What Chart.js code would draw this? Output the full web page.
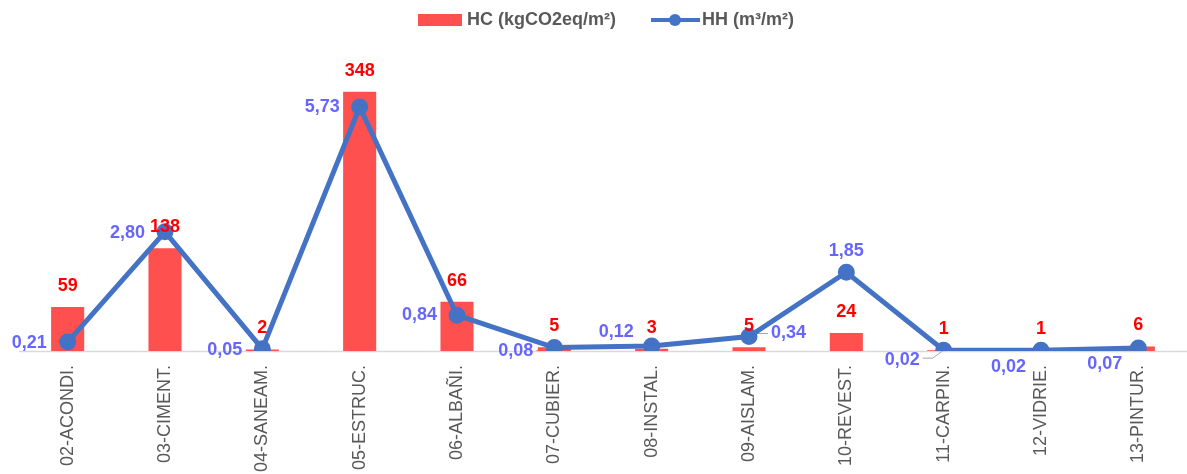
<!DOCTYPE html>
<html>
<head>
<meta charset="utf-8">
<script src="https://cdn.jsdelivr.net/npm/chart.js@4"></script>
<style>
  html, body { margin: 0; padding: 0; background: #fff; overflow: hidden; }
  canvas { display: block; }
</style>
</head>
<body>
<canvas id="grafico" width="1198" height="474"></canvas>
<script>
// partidas de obra
const partidas = ['02-ACONDI.', '03-CIMENT.', '04-SANEAM.', '05-ESTRUC.', '06-ALBAÑI.', '07-CUBIER.',
  '08-INSTAL.', '09-AISLAM.', '10-REVEST.', '11-CARPIN.', '12-VIDRIE.', '13-PINTUR.'];
// huella de carbono (kgCO2eq/m²)
const hc = [59, 138, 2, 348, 66, 5, 3, 5, 24, 1, 1, 6];
// huella hídrica (m³/m²)
const hh = [0.21, 2.80, 0.05, 5.73, 0.84, 0.08, 0.12, 0.34, 1.85, 0.02, 0.02, 0.07];

// desplazamiento de cada etiqueta de HH respecto a su punto [dx, dy, alineación]
const posEtiquetaHH = [
  [-21, 1, 'right'], [-20, 1, 'right'], [-20, 1, 'right'], [-20, 0, 'right'],
  [-20, 0, 'right'], [-21, 3, 'right'], [-18, -14, 'right'], [22, -3, 'left'],
  [0, -21, 'center'], [-24, 10, 'right'], [-15, 17, 'right'], [-16, 16, 'right']
];
// etiquetas de HH que llevan línea guía hasta su punto
const conGuia = [5, 7, 9];

const fuente = '"Liberation Sans", Arial, sans-serif';

// etiquetas de valor y línea base
const etiquetas = {
  id: 'etiquetas',
  beforeDatasetsDraw(chart) {
    const { ctx, chartArea } = chart;
    ctx.save();
    ctx.strokeStyle = '#d9d9d9';
    ctx.lineWidth = 1.5;
    ctx.beginPath();
    ctx.moveTo(chartArea.left, chartArea.bottom + 0.5);
    ctx.lineTo(chartArea.right, chartArea.bottom + 0.5);
    ctx.stroke();

    // líneas guía
    ctx.strokeStyle = '#a6a6a6';
    ctx.lineWidth = 1;
    chart.getDatasetMeta(1).data.forEach((punto, i) => {
      if (!conGuia.includes(i)) return;
      const p = posEtiquetaHH[i];
      const x0 = punto.x + p[0] + (p[2] === 'left' ? -3 : 3);
      const y0 = punto.y + p[1] + (p[1] > 5 ? -2 : 0);
      ctx.beginPath();
      ctx.moveTo(x0, y0);
      ctx.lineTo(x0 + (p[2] === 'left' ? -10 : 10), y0);
      ctx.lineTo(punto.x, punto.y);
      ctx.stroke();
    });
    ctx.restore();
  },
  afterDatasetsDraw(chart) {
    const ctx = chart.ctx;
    ctx.save();
    ctx.font = 'bold 18px ' + fuente;
    ctx.textBaseline = 'middle';

    chart.getDatasetMeta(0).data.forEach((barra, i) => {
      ctx.fillStyle = '#ff0000';
      ctx.textAlign = 'center';
      ctx.fillText(String(hc[i]), barra.x, barra.y - 21);
    });

    chart.getDatasetMeta(1).data.forEach((punto, i) => {
      const p = posEtiquetaHH[i];
      ctx.fillStyle = '#6666ff';
      ctx.textAlign = p[2];
      ctx.fillText(hh[i].toFixed(2).replace('.', ','), punto.x + p[0], punto.y + p[1]);
    });
    ctx.restore();
  }
};

// leyenda superior
const leyenda = {
  id: 'leyenda',
  afterDraw(chart) {
    const ctx = chart.ctx;
    ctx.save();
    ctx.font = 'bold 18px ' + fuente;
    ctx.textBaseline = 'middle';
    const y = 20;
    ctx.fillStyle = '#ff5050';
    ctx.fillRect(418, y - 6, 44, 12);
    ctx.fillStyle = '#595959';
    ctx.fillText('HC (kgCO2eq/m²)', 467, y);
    ctx.strokeStyle = '#4472c4';
    ctx.lineWidth = 4;
    ctx.beginPath();
    ctx.moveTo(651, y);
    ctx.lineTo(700, y);
    ctx.stroke();
    ctx.fillStyle = '#4472c4';
    ctx.beginPath();
    ctx.arc(675, y, 6, 0, Math.PI * 2);
    ctx.fill();
    ctx.fillStyle = '#595959';
    ctx.fillText('HH (m³/m²)', 702, y);
    ctx.restore();
  }
};

new Chart(document.getElementById('grafico'), {
  data: {
    labels: partidas,
    datasets: [
      {
        type: 'bar',
        label: 'HC (kgCO2eq/m²)',
        data: hc,
        backgroundColor: '#ff5050',
        yAxisID: 'yHC',
        categoryPercentage: 1,
        barPercentage: 0.34,
        order: 2
      },
      {
        type: 'line',
        label: 'HH (m³/m²)',
        data: hh,
        borderColor: '#4472c4',
        backgroundColor: '#4472c4',
        borderWidth: 5,
        pointRadius: 6,
        pointHoverRadius: 6,
        yAxisID: 'yHH',
        order: 1
      }
    ]
  },
  options: {
    responsive: false,
    animation: false,
    layout: { padding: { top: 53, left: 19, right: 0, bottom: 0 } },
    plugins: {
      legend: { display: false },
      tooltip: { enabled: false }
    },
    scales: {
      x: {
        offset: true,
        grid: { display: false },
        border: { display: false },
        ticks: {
          color: '#595959',
          font: { family: fuente, size: 18 },
          maxRotation: 90,
          minRotation: 90,
          autoSkip: false,
          padding: 6
        },
        afterFit(scale) {
          scale.height = 123;
        }
      },
      yHC: {
        display: false,
        min: 0,
        max: 400
      },
      yHH: {
        display: false,
        position: 'right',
        min: 0,
        max: 7
      }
    }
  },
  plugins: [etiquetas, leyenda]
});
</script>
</body>
</html>
